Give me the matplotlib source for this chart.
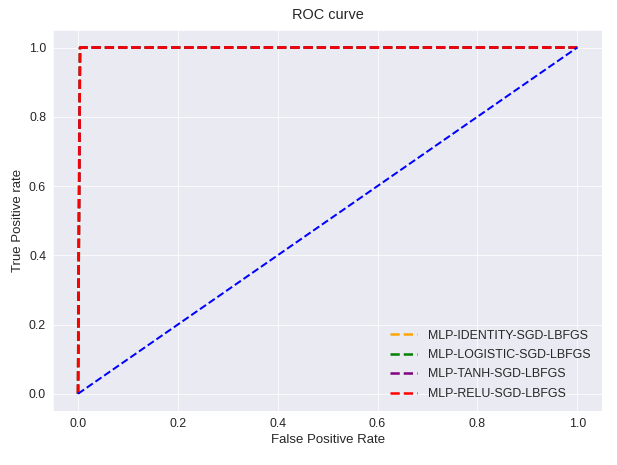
import matplotlib
matplotlib.use("Agg")
import matplotlib.pyplot as plt
import seaborn as sns

sns.set_style("darkgrid")
plt.rcParams['font.family'] = ['Liberation Sans', 'DejaVu Sans']

labels = ["MLP-IDENTITY-SGD-LBFGS", "MLP-LOGISTIC-SGD-LBFGS",
          "MLP-TANH-SGD-LBFGS", "MLP-RELU-SGD-LBFGS"]
colors = ["orange", "green", "purple", "red"]
fpr_identity = [0.0, 0.001, 0.004, 1.0]
tpr_identity = [0.0, 0.55, 1.0, 1.0]
fpr_logistic = [0.0, 0.004, 1.0]
tpr_logistic = [0.0, 1.0, 1.0]
fpr_tanh = [0.0, 0.001, 0.004, 1.0]
tpr_tanh = [0.0, 0.3, 1.0, 1.0]
fpr_relu = [0.0, 0.004, 1.0]
tpr_relu = [0.0, 1.0, 1.0]
fprs = [fpr_identity, fpr_logistic, fpr_tanh, fpr_relu]
tprs = [tpr_identity, tpr_logistic, tpr_tanh, tpr_relu]
diag_x = [0, 1]
diag_y = [0, 1]

fig = plt.figure(figsize=(617 / 72, 465 / 72), dpi=72)
ax = fig.add_axes([0.086, 0.116, 0.89, 0.819])
for f, t, c, l in zip(fprs, tprs, colors, labels):
    ax.plot(f, t, linestyle='--', color=c, label=l, linewidth=2.5)
ax.plot(diag_x, diag_y, 'b--', linewidth=2)
ax.set_title("ROC curve", fontsize=14.5, pad=11, color='#262626')
ax.set_xlabel("False Positive Rate", fontsize=13.2, color='#262626')
ax.set_ylabel("True Positive rate", fontsize=13.2, color='#262626', labelpad=5)
ax.tick_params(labelsize=12.4, labelcolor='#262626')
ax.legend(loc="lower right", frameon=False, fontsize=12.4,
          handlelength=2.2, handletextpad=0.9, labelspacing=0.6,
          borderaxespad=0.5)
fig.savefig("out.png", dpi=72)
